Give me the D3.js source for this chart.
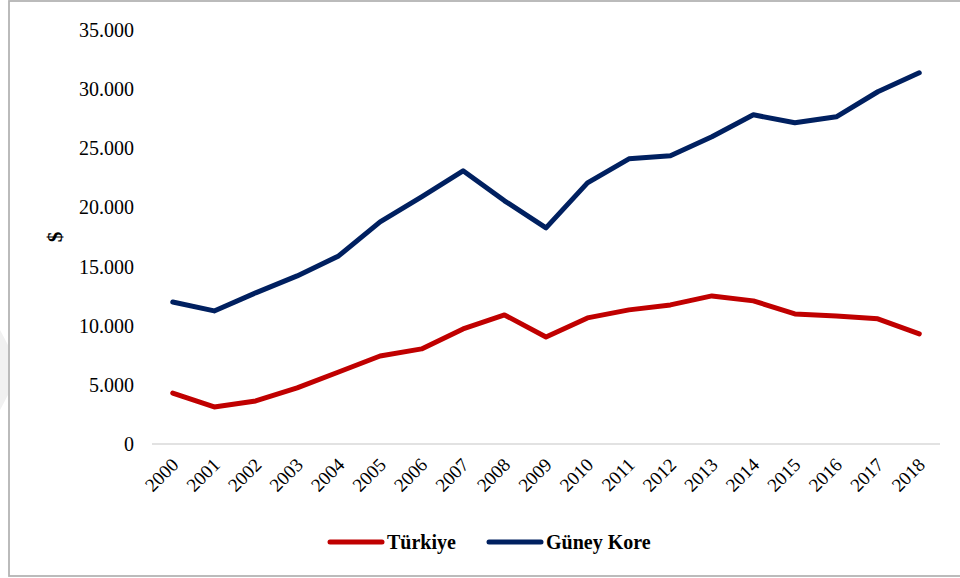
<!DOCTYPE html>
<html>
<head>
<meta charset="utf-8">
<script src="https://cdn.jsdelivr.net/npm/d3@7"></script>
<style>
  html, body { margin: 0; padding: 0; background: #fff; }
  svg { display: block; }
  text { font-family: 'Liberation Serif', 'Times New Roman', Times, serif; }
</style>
</head>
<body>
<svg id="chart" width="960" height="578"></svg>
<script>
// ---- Data ----
const years = ['2000','2001','2002','2003','2004','2005','2006','2007','2008','2009',
               '2010','2011','2012','2013','2014','2015','2016','2017','2018'];
const turkiye = [4310, 3130, 3640, 4740, 6090, 7440, 8040, 9730, 10910, 9050,
                 10660, 11340, 11760, 12520, 12100, 11000, 10830, 10580, 9310];
const guneyKore = [12010, 11250, 12780, 14210, 15900, 18780, 20900, 23100, 20560, 18270,
                   22080, 24110, 24370, 25970, 27830, 27160, 27660, 29780, 31380];
const yTicks = [0, 5000, 10000, 15000, 20000, 25000, 30000, 35000];
const seriesNames = ['Türkiye', 'Güney Kore'];

// ---- Layout ----
const svg = d3.select('#chart');
const serif = "'Liberation Serif', 'Times New Roman', Times, serif";
const plot = {left: 152, right: 940, top: 30, bottom: 444};

const x = d3.scalePoint().domain(years).range([plot.left, plot.right]).padding(0.5);
const y = d3.scaleLinear().domain([0, 35000]).range([plot.bottom, plot.top]);
const fmt = v => d3.format(',')(v).replace(/,/g, '.');
const colors = ['#c00000', '#002060'];

// frame
svg.append('rect')
  .attr('x', 9).attr('y', 1).attr('width', 960).attr('height', 575)
  .attr('fill', 'none').attr('stroke', '#b4b4b4').attr('stroke-width', 1.8);

// faint watermark left of the frame
svg.append('path')
  .attr('d', 'M0,330 L8,345 L8,395 L0,410 Z')
  .attr('fill', '#f1f1f1');

// y axis labels (no line)
svg.append('g')
  .selectAll('text')
  .data(yTicks)
  .join('text')
  .attr('x', 134)
  .attr('y', d => y(d))
  .attr('dy', '0.35em')
  .attr('text-anchor', 'end')
  .attr('font-family', serif)
  .attr('font-size', 20)
  .attr('fill', '#000')
  .text(fmt);

// x axis line
svg.append('line')
  .attr('x1', plot.left).attr('x2', plot.right)
  .attr('y1', y(0)).attr('y2', y(0))
  .attr('stroke', '#d9d9d9').attr('stroke-width', 1.5);

// x labels rotated
svg.append('g')
  .selectAll('text')
  .data(years)
  .join('text')
  .attr('transform', d => `translate(${x(d) + 7},${y(0) + 22}) rotate(-45)`)
  .attr('text-anchor', 'end')
  .attr('font-family', serif)
  .attr('font-size', 19)
  .attr('fill', '#000')
  .text(d => d);

// y title
svg.append('text')
  .attr('transform', 'translate(62,237) rotate(-90)')
  .attr('text-anchor', 'middle')
  .attr('font-family', serif)
  .attr('font-size', 21)
  .attr('font-weight', 'bold')
  .text('$');

// lines
const line = d3.line()
  .x((d, i) => x(years[i]))
  .y(d => y(d));

[turkiye, guneyKore].forEach((vals, i) => {
  svg.append('path')
    .datum(vals)
    .attr('fill', 'none')
    .attr('stroke', colors[i])
    .attr('stroke-width', 5)
    .attr('stroke-linejoin', 'round')
    .attr('stroke-linecap', 'round')
    .attr('d', line);
});

// legend
const legendItems = [{x: 330, tx: 387}, {x: 489, tx: 546}];
seriesNames.forEach((name, i) => {
  const it = legendItems[i];
  svg.append('line')
    .attr('x1', it.x).attr('x2', it.x + 52)
    .attr('y1', 542).attr('y2', 542)
    .attr('stroke', colors[i]).attr('stroke-width', 5)
    .attr('stroke-linecap', 'round');
  svg.append('text')
    .attr('x', it.tx).attr('y', 542)
    .attr('dy', '0.35em')
    .attr('font-family', serif)
    .attr('font-size', 20)
    .attr('font-weight', 'bold')
    .text(name);
});
</script>
</body>
</html>
